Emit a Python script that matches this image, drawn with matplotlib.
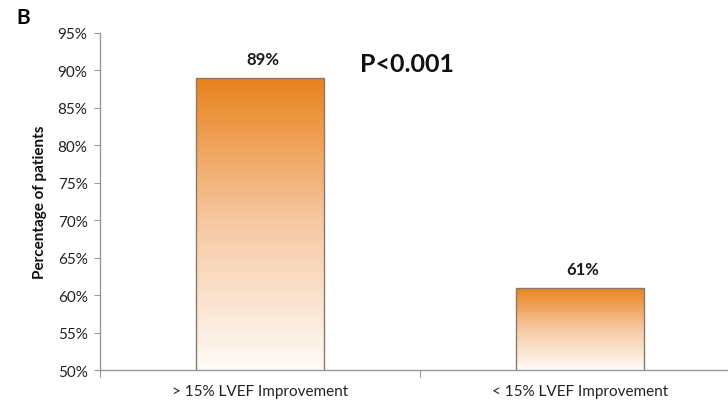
import numpy as np
import matplotlib.pyplot as plt
from matplotlib.colors import LinearSegmentedColormap

plt.rcParams['font.family'] = ['Lato', 'DejaVu Sans']

categories = ['> 15% LVEF Improvement', '< 15% LVEF Improvement']
values = [89, 61]
value_labels = ['89%', '61%']
yticks = [50, 55, 60, 65, 70, 75, 80, 85, 90, 95]

fig = plt.figure(figsize=(7.28, 4.10), dpi=100)
ax = fig.add_axes([0.1374, 0.0951, 0.879, 0.822])

x = np.arange(len(categories))

# orange at the top of each bar fading to white at its base
cmap = LinearSegmentedColormap.from_list('fade', ['#fffbf7', '#f6c9a3', '#e9821c'])
grad = np.linspace(0, 1, 256).reshape(-1, 1)

bars = ax.bar(x, values, width=0.4, bottom=0, color='none',
              edgecolor='#8a7a6e', linewidth=1.0, zorder=3)
for bar, v in zip(bars, values):
    x0 = bar.get_x()
    x1 = x0 + bar.get_width()
    im = ax.imshow(grad, cmap=cmap, aspect='auto', origin='lower',
                   extent=[x0, x1, 50, v], zorder=2)
    im.set_clip_path(bar)

ax.set_xlim(-0.5, 1.5)
ax.set_ylim(50, 95)

for xi, v, lab in zip(x, values, value_labels):
    ax.text(xi + 0.01, v + 2.5, lab, ha='center', va='center',
            fontsize=12, fontweight='bold', color='#1a1a1a')

ax.text(0.46, 90.9, 'P<0.001', ha='center', va='center',
        fontsize=18, fontweight='bold', color='#111111')

ax.set_yticks(yticks)
ax.set_yticklabels([f'{t}%' for t in yticks], fontsize=11, color='#222222')
ax.set_xticks([-0.5, 0.5, 1.5], minor=False)
ax.set_xticklabels(['', '', ''])
ax.set_xticks(x, minor=True)
ax.set_xticklabels(categories, minor=True, fontsize=11, color='#222222')
ax.tick_params(axis='x', which='minor', length=0, pad=10)
ax.tick_params(axis='x', which='major', length=5, color='#999999')
ax.tick_params(axis='y', length=4, color='#999999', pad=5)

for side in ['top', 'right']:
    ax.spines[side].set_visible(False)
for side in ['left', 'bottom']:
    ax.spines[side].set_color('#999999')
    ax.spines[side].set_linewidth(1.0)

ax.set_ylabel('Percentage of patients', fontsize=11, fontweight='bold',
              color='#111111', labelpad=8)

fig.text(0.022, 0.955, 'B', fontsize=15, fontweight='bold', va='center')

fig.savefig('out.png', dpi=100)
